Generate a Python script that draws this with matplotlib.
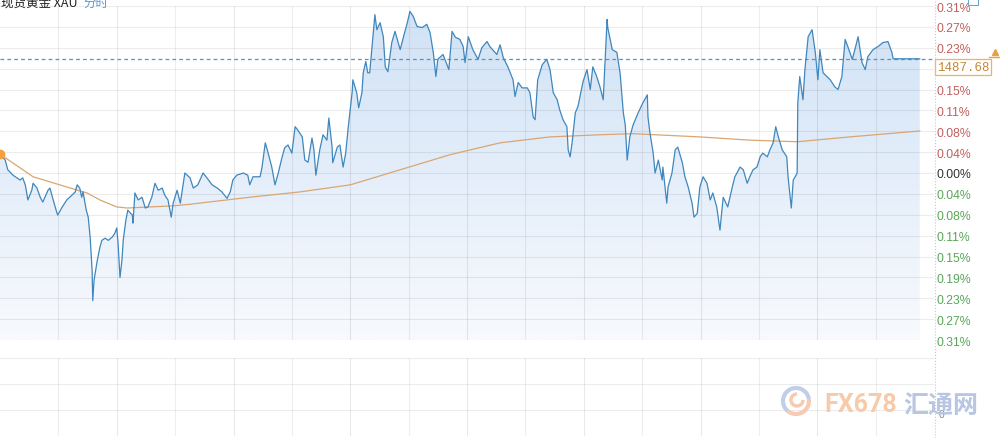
import numpy as np
import matplotlib.pyplot as plt
from matplotlib.colors import LinearSegmentedColormap
from matplotlib.patches import Rectangle, Arc
from matplotlib.lines import Line2D

plt.rcParams['font.family'] = ['Liberation Sans', 'Noto Sans CJK SC', 'DejaVu Sans']

# minutes since 06:00, change vs previous close in %
minutes = [0, 8, 12, 20, 31, 35, 39, 43, 49, 51, 57, 62, 66, 74, 77, 82, 88, 89, 96, 103,
           111, 116, 119, 123, 126, 128, 133, 136, 139, 142, 143, 145, 150, 154, 157, 162, 167, 173, 177, 180,
           182, 185, 188, 190, 194, 197, 204, 205, 208, 213, 219, 224, 228, 234, 239, 244, 250, 254, 259, 264,
           267, 273, 278, 285,
           293, 298, 305, 313, 319, 327, 335, 342, 350, 355, 359, 365, 375, 382, 385, 390, 401, 404, 409, 413,
           419, 424, 429, 435, 439, 444, 450, 455, 459, 466, 470, 475, 481, 484, 487, 493, 498, 504, 507, 512,
           513, 520, 524, 529, 533, 537, 543, 544, 550, 553, 558, 560, 564, 567,
           570, 578, 581, 586, 591, 594, 598, 604, 609, 617, 623,
           628, 632, 637, 643, 651, 658, 663, 668, 672, 675, 683, 689, 692, 697, 702, 709, 714, 717, 722, 729,
           737, 743, 751, 755, 766, 771, 776, 783, 791, 794, 799, 805, 813, 817, 822, 825, 829, 836, 843, 848,
           853, 859, 863, 868, 874, 876, 879, 882, 887, 891, 899, 905, 910, 914, 920, 925, 930, 933, 936, 937,
           944, 951, 956, 961, 964, 967, 971, 976, 984, 991, 998, 999, 1002, 1007, 1010, 1015, 1021, 1022, 1028, 1030,
           1036, 1041, 1045, 1052, 1056, 1061, 1067, 1070, 1075, 1079, 1084, 1090, 1095, 1099, 1105, 1110, 1115, 1122, 1129, 1133,
           1141, 1146, 1152, 1156, 1161, 1167, 1172, 1176, 1183, 1187, 1192, 1196, 1200, 1206, 1213, 1215, 1220, 1223, 1226, 1229,
           1230, 1233, 1238, 1241, 1246, 1252, 1257, 1261, 1264, 1269, 1275, 1280, 1287, 1292, 1298, 1303, 1307, 1314, 1318, 1323,
           1329, 1334, 1338, 1346, 1354, 1361, 1369, 1375, 1377, 1418]
change = [0.035, 0.024, 0.006, -0.004, -0.013, -0.009, -0.022, -0.050, -0.032, -0.019, -0.028, -0.045, -0.054, -0.032, -0.028, -0.050, -0.075, -0.078, -0.063, -0.050,
          -0.041, -0.035, -0.022, -0.028, -0.045, -0.035, -0.069, -0.082, -0.119, -0.181, -0.237, -0.199, -0.162, -0.138, -0.125, -0.121, -0.125, -0.119, -0.112, -0.102,
          -0.130, -0.194, -0.162, -0.125, -0.088, -0.069, -0.078, -0.093, -0.037, -0.050, -0.045, -0.065, -0.063, -0.045, -0.019, -0.032, -0.028, -0.041, -0.050, -0.082,
          -0.056, -0.032, -0.056, 0.000,
          -0.009, -0.028, -0.022, 0.000, -0.009, -0.022, -0.028, -0.035, -0.047, -0.035, -0.013, -0.004, 0.000, -0.004, -0.022, -0.007, -0.007, 0.011, 0.056, 0.039,
          0.011, -0.022, 0.000, 0.030, 0.047, 0.052, 0.037, 0.086, 0.080, 0.067, 0.024, 0.020, 0.065, 0.043, -0.004, 0.043, 0.071, 0.061, 0.102, 0.048,
          0.019, 0.048, 0.052, 0.011, 0.037, 0.086, 0.151, 0.173, 0.149, 0.121, 0.149, 0.186, 0.207, 0.186,
          0.186, 0.294, 0.266, 0.279, 0.253, 0.197, 0.188, 0.242, 0.263, 0.229, 0.257,
          0.279, 0.300, 0.291, 0.272, 0.270, 0.276, 0.261, 0.224, 0.179, 0.211, 0.220, 0.201, 0.192, 0.263, 0.252, 0.248, 0.235, 0.205, 0.253, 0.229,
          0.211, 0.233, 0.244, 0.235, 0.220, 0.238, 0.214, 0.197, 0.173, 0.142, 0.168, 0.158, 0.158, 0.149, 0.104, 0.099, 0.173, 0.201, 0.211, 0.192,
          0.149, 0.136, 0.117, 0.099, 0.086, 0.043, 0.030, 0.056, 0.112, 0.123, 0.170, 0.192, 0.155, 0.197, 0.179, 0.160, 0.136, 0.211, 0.285, 0.270,
          0.229, 0.224, 0.186, 0.112, 0.089, 0.024, 0.067, 0.089, 0.112, 0.130, 0.145, 0.104, 0.075, 0.037, 0.000, 0.024, -0.013, 0.011, -0.056, -0.026,
          0.000, 0.043, 0.048, 0.019, -0.007, -0.026, -0.056, -0.082, -0.075, -0.026, -0.007, -0.019, -0.050, -0.037, -0.063, -0.106, -0.045, -0.063, -0.026, -0.007,
          0.011, 0.006, -0.019, -0.007, 0.006, 0.011, 0.030, 0.037, 0.030, 0.043, 0.056, 0.086, 0.067, 0.043, 0.030, -0.007, -0.065, -0.013, -0.007, 0.000,
          0.130, 0.179, 0.136, 0.192, 0.253, 0.266, 0.224, 0.173, 0.229, 0.186, 0.179, 0.173, 0.160, 0.155, 0.179, 0.248, 0.235, 0.211, 0.229, 0.253,
          0.205, 0.192, 0.216, 0.229, 0.235, 0.242, 0.244, 0.224, 0.212, 0.212]

# average price line
avg_minutes = [0, 51, 103, 134, 154, 180, 196, 231, 267, 293, 385, 463, 540, 617, 694, 771, 848, 925, 976, 1079, 1156, 1229, 1310, 1418]
avg_change = [0.035, -0.007, -0.026, -0.037, -0.050, -0.063, -0.065, -0.063, -0.061, -0.058, -0.045, -0.035, -0.022, 0.006, 0.034, 0.056, 0.067, 0.071, 0.073, 0.067, 0.061, 0.058, 0.067, 0.078]

last_price = 1487.68
last_change = 0.212
tick_values = [k * 0.03875 for k in range(8, -9, -1)]
tick_labels = ['0.31%', '0.27%', '0.23%', '0.19%', '0.15%', '0.11%', '0.08%', '0.04%', '0.00%',
               '0.04%', '0.08%', '0.11%', '0.15%', '0.19%', '0.23%', '0.27%', '0.31%']

W, H = 1000, 439
fig = plt.figure(figsize=(W / 100, H / 100), dpi=100)


def box(x0, y0, x1, y1):
    return [x0 / W, 1 - y1 / H, (x1 - x0) / W, (y1 - y0) / H]


ax = fig.add_axes(box(0, 7, 934, 341))
for s in ax.spines.values():
    s.set_visible(False)

# gradient fill under the line
poly = ax.fill_between(minutes, change, -0.31, facecolor='none', edgecolor='none')
cmap = LinearSegmentedColormap.from_list('fill', ['#f8fafd', '#e4eefa', '#d0e2f5'])
grad = np.linspace(0, 1, 256).reshape(-1, 1)
im = ax.imshow(grad, extent=[0, 1440, -0.31, 0.31], origin='lower', aspect='auto', cmap=cmap, zorder=0.5)
im.set_clip_path(poly.get_paths()[0], transform=ax.transData)

for v in tick_values:
    ax.axhline(v, color='k', alpha=0.075, lw=0.8, zorder=1)
for m in range(90, 1440, 90):
    ax.axvline(m, color='k', alpha=0.065 if m % 180 else 0.085, lw=0.8, zorder=1)

ax.axhline(last_change, color='#4f95c6', lw=0.9, ls=(0, (3, 2.5)), zorder=2.5)
ax.plot(avg_minutes, avg_change, color='#d9a672', lw=0.9, zorder=2.8)
ax.plot(minutes, change, color='#3f87bd', lw=0.9, zorder=3)
ax.plot(minutes[0], change[0], 'o', color='#f4a03c', ms=7, mec='none', zorder=4)

ax.set_xlim(0, 1440)
ax.set_ylim(-0.31, 0.31)
ax.set_xticks([])
ax.yaxis.tick_right()
ax.set_yticks(tick_values)
ax.set_yticklabels(tick_labels)
ax.tick_params(axis='y', length=0, pad=1.5, labelsize=8.8)
for lab, v in zip(ax.get_yticklabels(), tick_values):
    lab.set_color('#c0605c' if v > 1e-9 else ('#5aa55a' if v < -1e-9 else '#333333'))

# last price tag
ax.annotate(f'{last_price:.2f}', xy=(1, last_change), xycoords=('axes fraction', 'data'),
            xytext=(2, -1.5), textcoords='offset points', ha='left', va='top',
            fontsize=9, color='#c4873a', family='Liberation Mono', annotation_clip=False,
            bbox=dict(boxstyle='square,pad=0.15', fc='white', ec='#f1b25c', lw=0.9), zorder=5)
ax.plot([1.065], [last_change + 0.012], marker='^', ms=4, color='#e8a040', transform=ax.get_yaxis_transform(),
        clip_on=False)
ax.plot([1.059, 1.071], [last_change + 0.003] * 2, color='#e8a040', lw=1, transform=ax.get_yaxis_transform(),
        clip_on=False)

# empty volume panel
vax = fig.add_axes(box(0, 359, 934, 437))
for s in vax.spines.values():
    s.set_visible(False)
vax.set_xlim(0, 1440)
vax.set_ylim(0, 3)
for v in range(4):
    vax.axhline(v, color='k', alpha=0.075, lw=0.8)
for m in range(90, 1440, 90):
    vax.axvline(m, color='k', alpha=0.065 if m % 180 else 0.085, lw=0.8)
vax.set_xticks([])
vax.set_yticks([])
vax.text(1.005, 0.85, '0', transform=vax.get_yaxis_transform(), fontsize=7.5, color='#888888', va='center')

fig.add_artist(Line2D([935 / W] * 2, [0, 1], color='#c8c8c8', lw=0.8, ls=':'))
fig.add_artist(Rectangle((968 / W, 1 - 6 / H), 10 / W, 9 / H, fill=False, ec='#6aa8d6', lw=0.8,
                         transform=fig.transFigure))

# title
fig.text(1 / W, 1 - 6.5 / H, '现货黄金 XAU', fontsize=9, color='#222222', va='baseline',
         family=['Noto Sans CJK SC'])
fig.text(83 / W, 1 - 6.5 / H, '分时', fontsize=9, color='#5b9bd5', va='baseline',
         family=['Noto Sans CJK SC'])

# watermark
fig.add_artist(Arc((796 / W, 1 - 402 / H), 26 / W, 26 / H, theta1=20, theta2=250, color='#b5c6e6', lw=3,
                   transform=fig.transFigure, alpha=0.85))
fig.add_artist(Arc((796 / W, 1 - 402 / H), 26 / W, 26 / H, theta1=250, theta2=380, color='#f6c2a4', lw=3,
                   transform=fig.transFigure, alpha=0.85))
fig.add_artist(Arc((797 / W, 1 - 401 / H), 12 / W, 12 / H, theta1=90, theta2=360, color='#f6c2a4', lw=2.5,
                   transform=fig.transFigure, alpha=0.85))
fig.text(824 / W, 1 - 412 / H, 'FX678', fontsize=18, fontweight='bold', color='#f7caa9', va='baseline',
         family=['Roboto'])
fig.text(903 / W, 1 - 413 / H, '汇通网', fontsize=18, fontweight='bold', color='#b8c5e3', va='baseline',
         family=['Noto Sans CJK SC'])

fig.savefig('out.png', dpi=100)
